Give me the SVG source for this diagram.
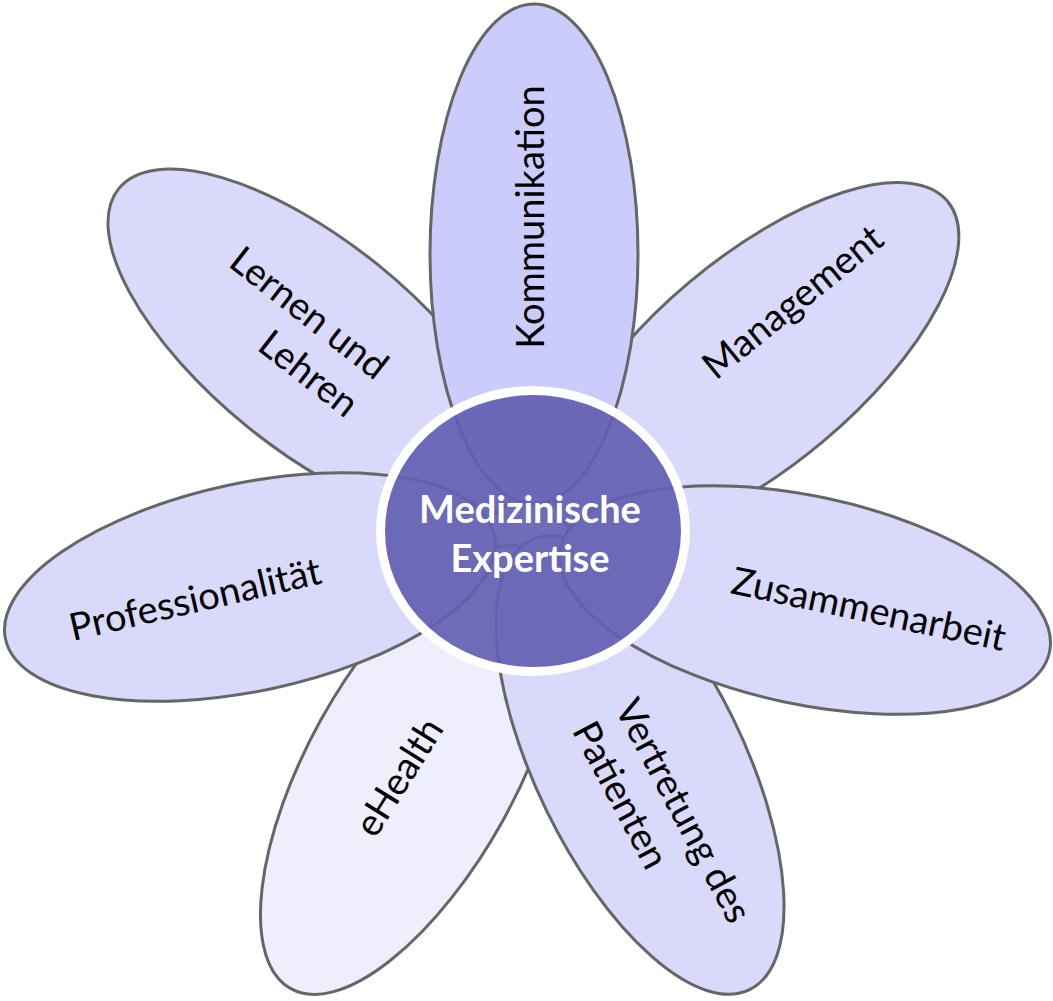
<svg xmlns="http://www.w3.org/2000/svg" width="1053" height="1001" viewBox="0 0 1053 1001">
<style>
.petal{stroke:#666666;stroke-width:3;fill:#D9D9FB}
.p-top{fill:#CCCCFC}
.p-light{fill:#EEEEFD}
.lbl{font-family:Lato,"Liberation Sans",sans-serif;font-size:38px;fill:#000000}
.ctr{font-family:Lato,"Liberation Sans",sans-serif;font-size:38px;font-weight:bold;fill:#FFFFFF;text-anchor:middle}
</style>
<rect width="1053" height="1001" fill="#FFFFFF"/>
<g id="petals">
<g id="node-ehealth"><ellipse class="petal p-light" cx="412" cy="770" rx="250" ry="104" transform="rotate(-61 412 770)"/></g>
<g id="node-lernen"><ellipse class="petal" cx="313" cy="346" rx="250" ry="104" transform="rotate(39 313 346)"/></g>
<g id="node-management"><ellipse class="petal" cx="756" cy="362" rx="250" ry="104" transform="rotate(-40 756 362)"/></g>
<g id="node-vertretung"><ellipse class="petal" cx="640" cy="765" rx="250" ry="104" transform="rotate(64 640 765)"/></g>
<g id="node-professionalitaet"><ellipse class="petal" cx="250" cy="587" rx="250" ry="104" transform="rotate(-12 250 587)"/></g>
<g id="node-zusammenarbeit"><ellipse class="petal" cx="805" cy="600" rx="250" ry="104" transform="rotate(12 805 600)"/></g>
<g id="node-kommunikation"><ellipse class="petal p-top" cx="534" cy="254" rx="104" ry="250"/></g>
</g>
<g id="node-center">
<ellipse cx="533" cy="531" rx="152.5" ry="140.5" fill="#635FB3" fill-opacity="0.92" stroke="#FFFFFF" stroke-width="9"/>
<text class="ctr" x="530" y="523">Medizinische</text>
<text class="ctr" x="530" y="572">Expertise</text>
</g>
<g id="labels">
<text class="lbl" text-anchor="middle" transform="translate(544 217) rotate(-90)">Kommunikation</text>
<text class="lbl" text-anchor="middle" transform="translate(801 312) rotate(-39)">Management</text>
<text class="lbl" text-anchor="middle" transform="translate(866 622) rotate(12)">Zusammenarbeit</text>
<text class="lbl" text-anchor="start" transform="translate(614 708) rotate(62)"><tspan x="0" y="0">Vertretung des</tspan><tspan x="0" y="48">Patienten</tspan></text>
<text class="lbl" text-anchor="middle" transform="translate(410 784) rotate(-58)">eHealth</text>
<text class="lbl" text-anchor="middle" transform="translate(198 612) rotate(-13)">Professionalität</text>
<text class="lbl" text-anchor="end" transform="translate(375 381) rotate(38)"><tspan x="0" y="0">Lernen und</tspan><tspan x="0" y="48">Lehren</tspan></text>
</g>
<g id="connectors"></g>
</svg>
